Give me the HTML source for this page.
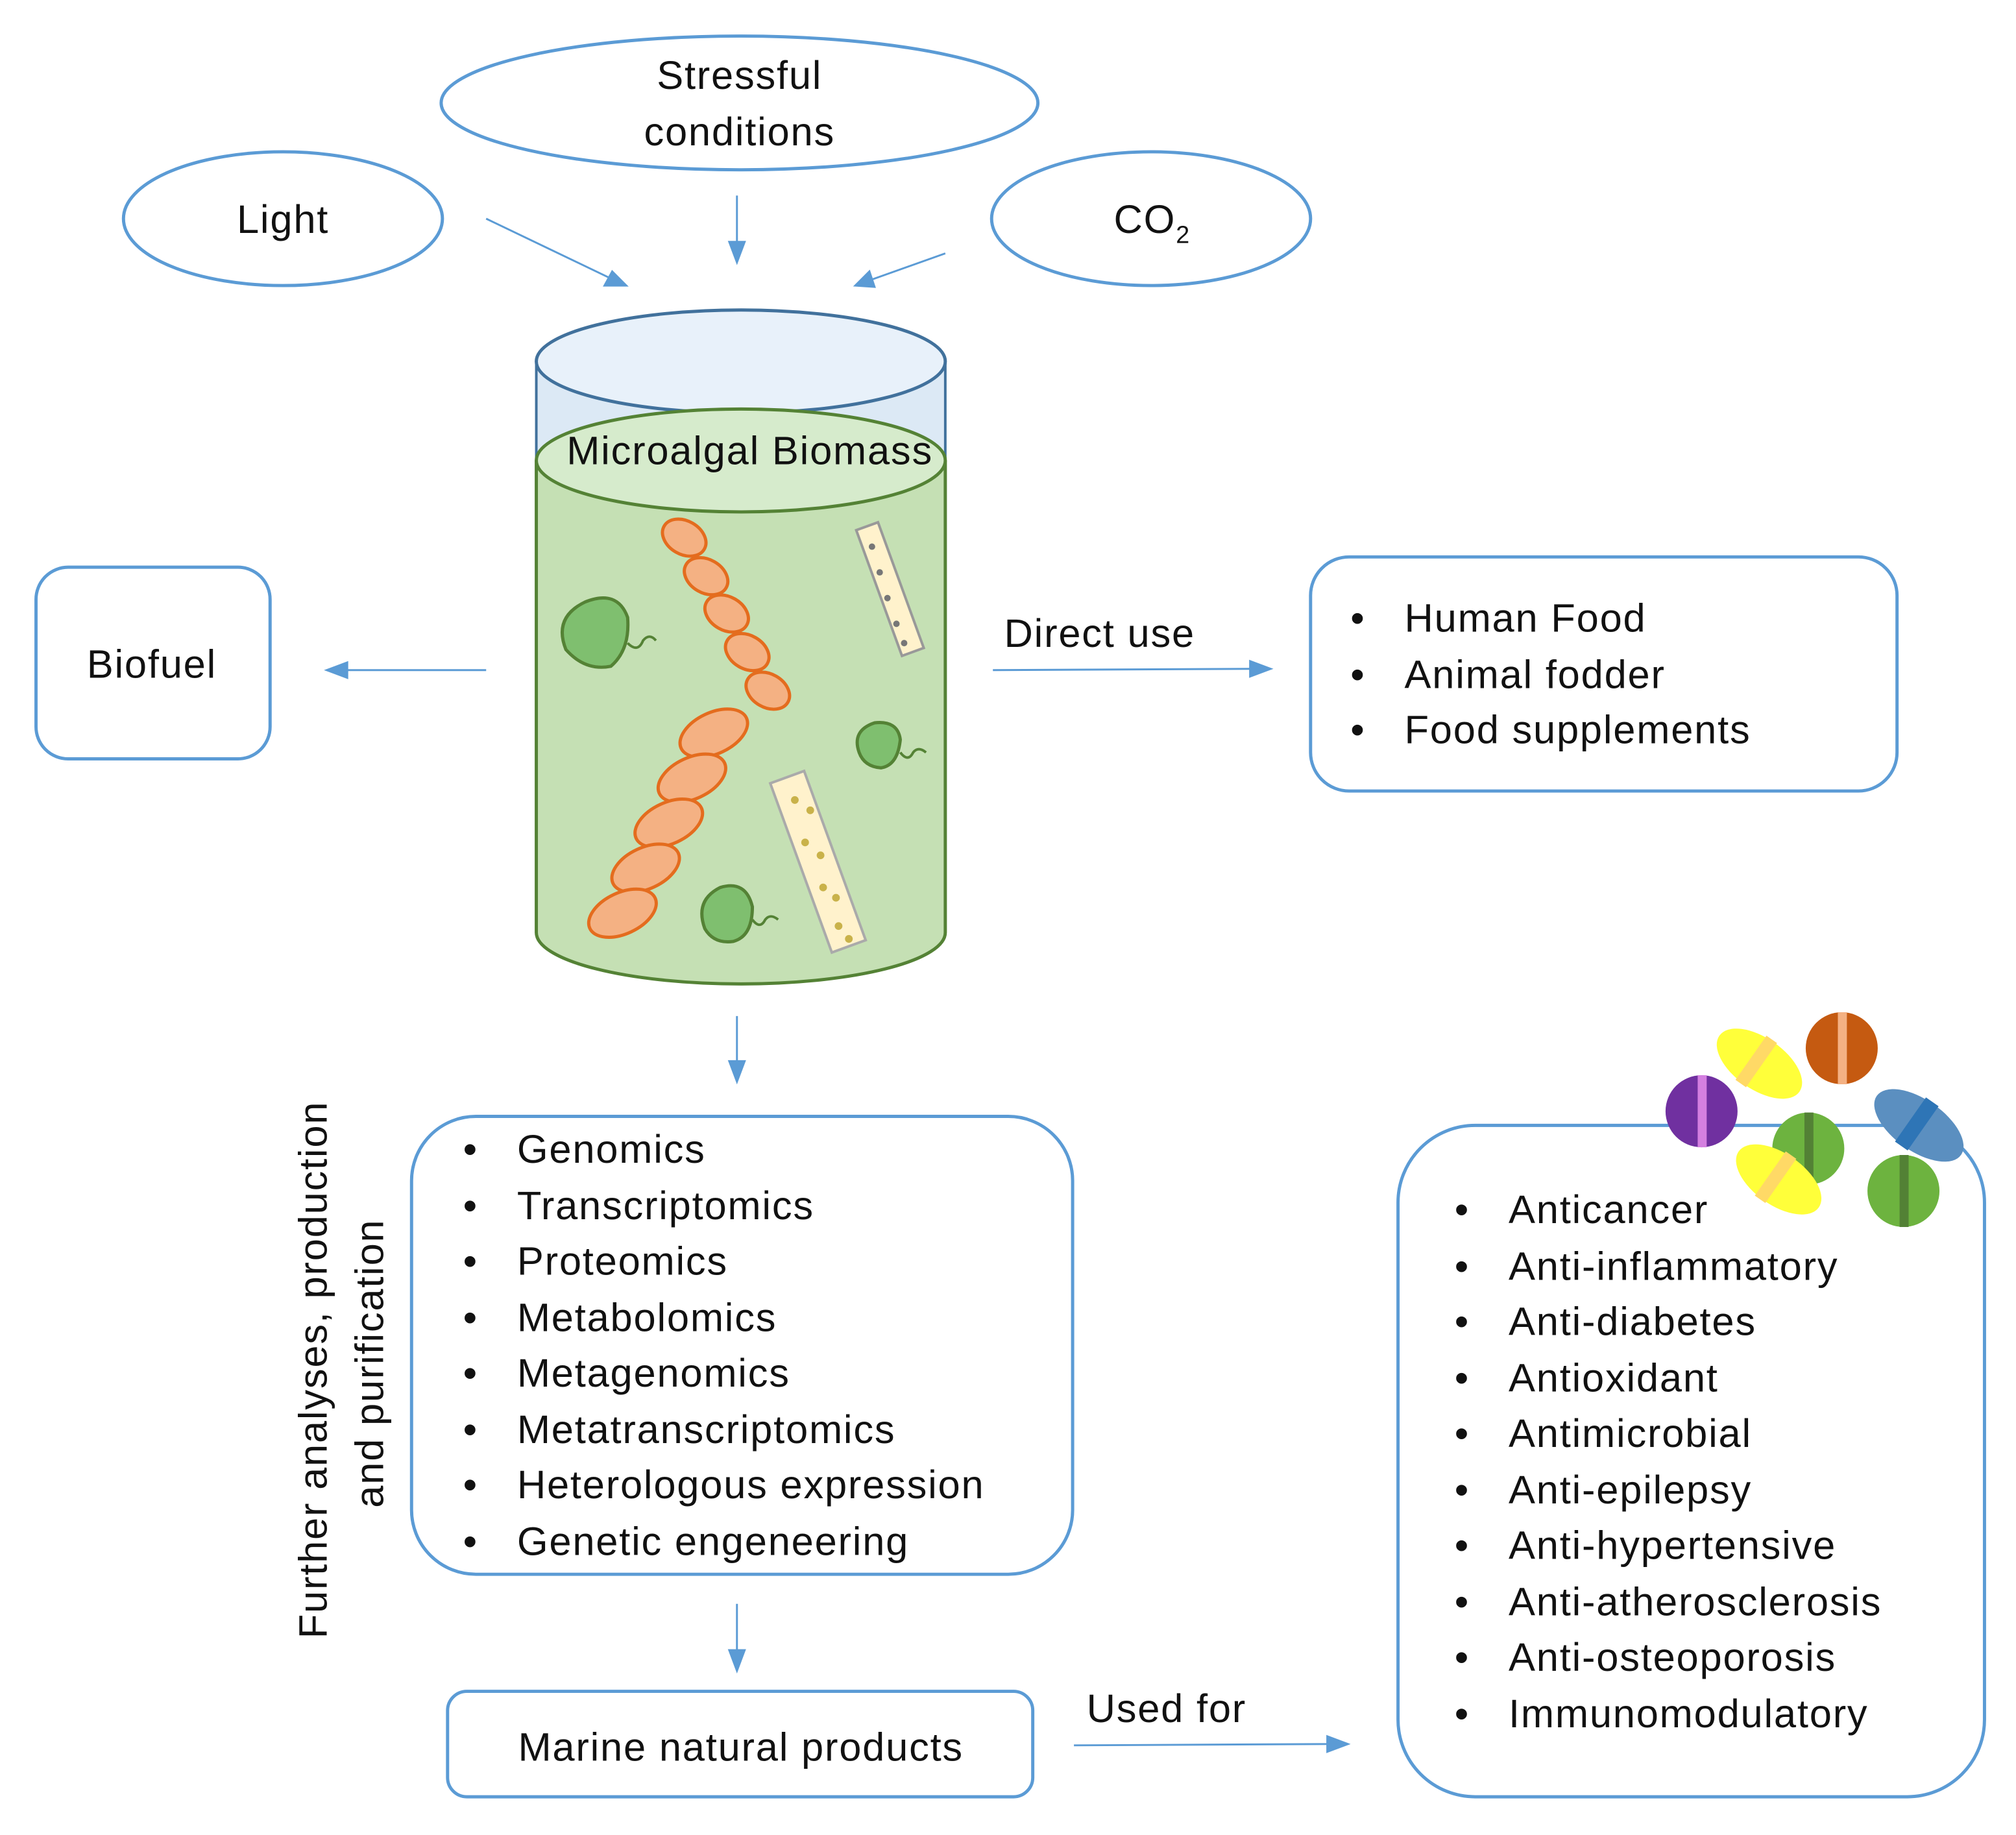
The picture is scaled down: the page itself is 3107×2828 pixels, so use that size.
<!DOCTYPE html>
<html><head><meta charset="utf-8"><style>
html,body{margin:0;padding:0;background:#fff;}
svg{display:block;}
text{font-family:"Liberation Sans",sans-serif;fill:#111;letter-spacing:0.9px;}
</style></head><body>
<svg width="3107" height="2828" viewBox="0 0 1567.5 1426.7" xmlns="http://www.w3.org/2000/svg">
<g fill="none" stroke="#5b9bd5" stroke-width="2.5">
<ellipse cx="575" cy="80" rx="232" ry="52"/>
<ellipse cx="220" cy="170" rx="124" ry="52"/>
<ellipse cx="895" cy="170" rx="124" ry="52"/>
<rect x="28" y="441" width="182" height="149" rx="25"/>
<rect x="1019" y="433" width="456" height="182" rx="30"/>
<rect x="320" y="868" width="514" height="356" rx="50"/>
<rect x="348" y="1315" width="455" height="82" rx="15"/>
<rect x="1087" y="875" width="456" height="522" rx="60"/>
</g>
<g stroke="#5b9bd5" stroke-width="1.5" fill="#5b9bd5">
<line x1="378" y1="170" x2="476" y2="217"/><polygon points="487,222 470,222 476,211"/>
<line x1="573" y1="152" x2="573" y2="190"/><polygon points="573,204 567,188 579,188"/>
<line x1="735" y1="197" x2="676" y2="218"/><polygon points="665,222 676,211 680,223"/>
<line x1="378" y1="521" x2="268" y2="521"/><polygon points="254,521 270,515 270,527"/>
<line x1="772" y1="521" x2="974" y2="520"/><polygon points="988,520 972,514 972,526"/>
<line x1="573" y1="790" x2="573" y2="827"/><polygon points="573,841 567,825 579,825"/>
<line x1="573" y1="1247" x2="573" y2="1285"/><polygon points="573,1299 567,1283 579,1283"/>
<line x1="835" y1="1357" x2="1034" y2="1356"/><polygon points="1048,1356 1032,1350 1032,1362"/>
</g>
<path d="M417,281 V358 H735 V281" fill="#dce9f5" stroke="#41719c" stroke-width="2"/>
<ellipse cx="576" cy="281" rx="159" ry="40" fill="#e8f1fa" stroke="#41719c" stroke-width="2.5"/>
<path d="M417,358 V725 A159,40 0 0 0 735,725 V358" fill="#c5e0b4" stroke="#548235" stroke-width="2.5"/>
<ellipse cx="576" cy="358" rx="159" ry="40" fill="#d6ebcc" stroke="#548235" stroke-width="2.5"/>
<text x="583" y="361" font-size="31" text-anchor="middle">Microalgal Biomass</text>
<g fill="#f4b183" stroke="#e46c1e" stroke-width="2.5">
<g transform="rotate(30 532 418)"><ellipse cx="532" cy="418" rx="18" ry="13"/></g>
<g transform="rotate(30 549 448)"><ellipse cx="549" cy="448" rx="18" ry="13"/></g>
<g transform="rotate(30 565 477)"><ellipse cx="565" cy="477" rx="18" ry="13"/></g>
<g transform="rotate(30 581 507)"><ellipse cx="581" cy="507" rx="18" ry="13"/></g>
<g transform="rotate(30 597 537)"><ellipse cx="597" cy="537" rx="18" ry="13"/></g>
<g transform="rotate(-25 555 570)"><ellipse cx="555" cy="570" rx="28" ry="16"/></g>
<g transform="rotate(-25 538 605)"><ellipse cx="538" cy="605" rx="28" ry="16"/></g>
<g transform="rotate(-25 520 640)"><ellipse cx="520" cy="640" rx="28" ry="16"/></g>
<g transform="rotate(-25 502 675)"><ellipse cx="502" cy="675" rx="28" ry="16"/></g>
<g transform="rotate(-25 484 710)"><ellipse cx="484" cy="710" rx="28" ry="16"/></g>
</g>
<g fill="#7fbf6f" stroke="#548235" stroke-width="2.5">
<path d="M440,505 Q430,480 455,468 Q480,458 488,480 Q490,505 475,518 Q455,522 440,505z"/>
<path d="M668,585 Q662,568 680,562 Q698,560 700,575 Q698,595 685,597 Q672,596 668,585z"/>
<path d="M548,722 Q540,700 560,690 Q580,684 585,705 Q585,728 570,732 Q555,734 548,722z"/>
</g>
<g fill="none" stroke="#548235" stroke-width="2"><path d="M488,500 q8,8 12,-2 q5,-6 10,0"/><path d="M700,585 q6,8 10,0 q4,-5 10,0"/><path d="M585,715 q6,8 10,0 q4,-5 10,0"/></g>
<g transform="rotate(-20 692 458)"><rect x="683" y="406" width="18" height="104" fill="#fff2cc" stroke="#999" stroke-width="2"/></g>
<g transform="rotate(-20 636 670)"><rect x="622" y="600" width="28" height="140" fill="#fff2cc" stroke="#aaa" stroke-width="2"/></g>
<g fill="#777"><circle cx="678" cy="425" r="2.5"/><circle cx="684" cy="445" r="2.5"/><circle cx="690" cy="465" r="2.5"/><circle cx="697" cy="485" r="2.5"/><circle cx="703" cy="500" r="2.5"/></g>
<g fill="#c9b24a"><circle cx="618" cy="622" r="3"/><circle cx="630" cy="630" r="3"/><circle cx="626" cy="655" r="3"/><circle cx="638" cy="665" r="3"/><circle cx="640" cy="690" r="3"/><circle cx="650" cy="698" r="3"/><circle cx="652" cy="720" r="3"/><circle cx="660" cy="730" r="3"/></g>
<g font-size="31">
<text x="575" y="69" text-anchor="middle">Stressful</text>
<text x="575" y="113" text-anchor="middle">conditions</text>
<text x="220" y="181" text-anchor="middle">Light</text>
<text x="866" y="181">CO<tspan font-size="19" dy="8">2</tspan></text>
<text x="118" y="527" text-anchor="middle">Biofuel</text>
<text x="855" y="503" text-anchor="middle">Direct use</text>
<text x="907" y="1339" text-anchor="middle">Used for</text>
<text x="576" y="1369" text-anchor="middle">Marine natural products</text>
</g>
<g font-size="31">
<text x="1050" y="491">•</text><text x="1092" y="491">Human Food</text>
<text x="1050" y="535">•</text><text x="1092" y="535">Animal fodder</text>
<text x="1050" y="578">•</text><text x="1092" y="578">Food supplements</text>
</g>
<g font-size="31">
<text x="360" y="904">•</text><text x="402" y="904">Genomics</text>
<text x="360" y="948">•</text><text x="402" y="948">Transcriptomics</text>
<text x="360" y="991">•</text><text x="402" y="991">Proteomics</text>
<text x="360" y="1035">•</text><text x="402" y="1035">Metabolomics</text>
<text x="360" y="1078">•</text><text x="402" y="1078">Metagenomics</text>
<text x="360" y="1122">•</text><text x="402" y="1122">Metatranscriptomics</text>
<text x="360" y="1165">•</text><text x="402" y="1165">Heterologous expression</text>
<text x="360" y="1209">•</text><text x="402" y="1209">Genetic engeneering</text>
</g>
<g font-size="31" transform="rotate(-90)">
<text x="-1065" y="254" text-anchor="middle">Further analyses, production</text>
<text x="-1060" y="298" text-anchor="middle">and purification</text>
</g>
<g font-size="31">
<text x="1131" y="951">•</text><text x="1173" y="951">Anticancer</text>
<text x="1131" y="995">•</text><text x="1173" y="995">Anti-inflammatory</text>
<text x="1131" y="1038">•</text><text x="1173" y="1038">Anti-diabetes</text>
<text x="1131" y="1082">•</text><text x="1173" y="1082">Antioxidant</text>
<text x="1131" y="1125">•</text><text x="1173" y="1125">Antimicrobial</text>
<text x="1131" y="1169">•</text><text x="1173" y="1169">Anti-epilepsy</text>
<text x="1131" y="1212">•</text><text x="1173" y="1212">Anti-hypertensive</text>
<text x="1131" y="1256">•</text><text x="1173" y="1256">Anti-atherosclerosis</text>
<text x="1131" y="1299">•</text><text x="1173" y="1299">Anti-osteoporosis</text>
<text x="1131" y="1343">•</text><text x="1173" y="1343">Immunomodulatory</text>
</g>
<g>
<g transform="rotate(35 1368 827)"><ellipse cx="1368" cy="827" rx="38" ry="20" fill="#ffff3a"/><rect x="1360" y="806" width="10" height="42" fill="#ffd966"/></g>
<circle cx="1432" cy="815" r="28" fill="#c55a11"/><rect x="1429" y="787" width="7" height="56" fill="#f4b183"/>
<circle cx="1323" cy="864" r="28" fill="#7030a0"/><rect x="1320" y="836" width="7" height="56" fill="#d47fe0"/>
<circle cx="1406" cy="893" r="28" fill="#6db33f"/><rect x="1403" y="865" width="7" height="56" fill="#538135"/>
<g transform="rotate(35 1383 917)"><ellipse cx="1383" cy="917" rx="38" ry="20" fill="#ffff3a"/><rect x="1375" y="896" width="10" height="42" fill="#ffd966"/></g>
<g transform="rotate(35 1492 875)"><ellipse cx="1492" cy="875" rx="40" ry="20" fill="#5b8fc0"/><rect x="1484" y="854" width="12" height="42" fill="#2e75b6"/></g>
<circle cx="1480" cy="926" r="28" fill="#6db33f"/><rect x="1477" y="898" width="7" height="56" fill="#538135"/>
</g>
</svg>
</body></html>
